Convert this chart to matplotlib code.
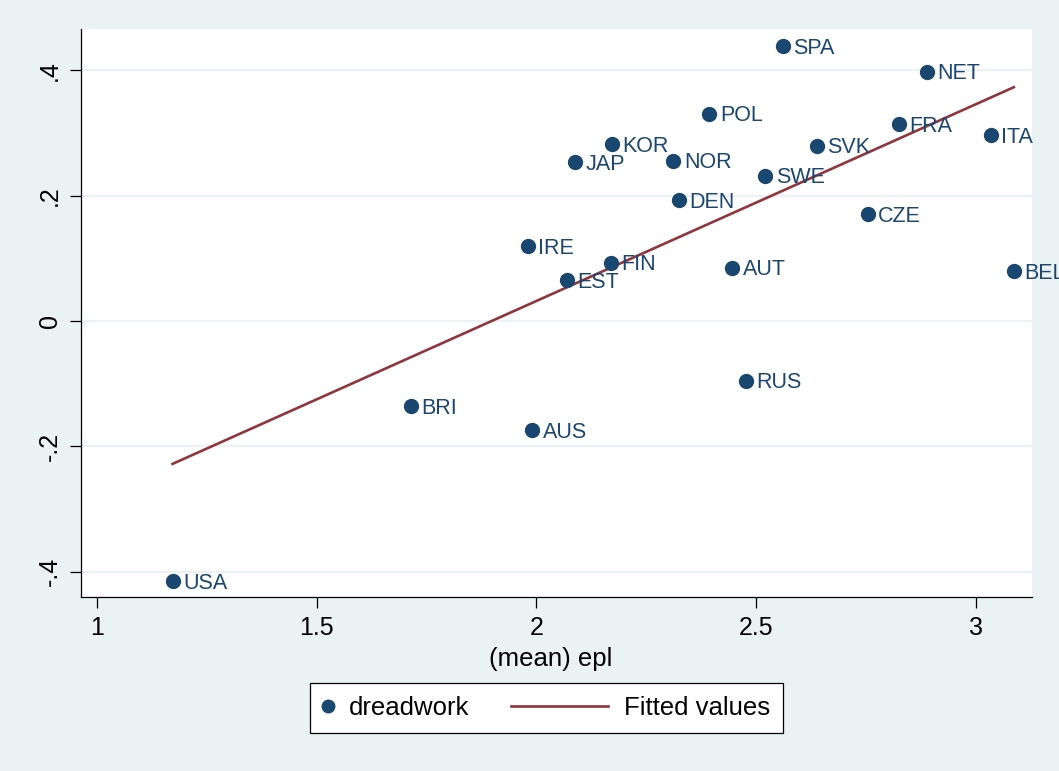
import numpy as np
import matplotlib
matplotlib.use('Agg')
import matplotlib.pyplot as plt
from matplotlib.legend_handler import HandlerLine2D

matplotlib.rc('font', family=['Liberation Sans', 'DejaVu Sans'], size=18)

# data
countries = ['USA', 'BRI', 'AUS', 'IRE', 'EST', 'FIN', 'JAP', 'KOR', 'NOR', 'DEN', 'POL',
             'AUT', 'RUS', 'SWE', 'SPA', 'SVK', 'CZE', 'FRA', 'NET', 'ITA', 'BEL']
epl = [1.172, 1.715, 1.991, 1.981, 2.069, 2.169, 2.088, 2.172, 2.312, 2.324, 2.394,
       2.446, 2.477, 2.521, 2.561, 2.638, 2.754, 2.826, 2.889, 3.035, 3.087]
dreadwork = [-0.415, -0.136, -0.174, 0.120, 0.065, 0.093, 0.254, 0.282, 0.256, 0.193, 0.331,
             0.085, -0.095, 0.232, 0.439, 0.280, 0.170, 0.314, 0.398, 0.297, 0.079]
fit_x = [1.172, 3.087]
fit_y = [-0.228, 0.373]

xticks = [1, 1.5, 2, 2.5, 3]
xticklabels = ['1', '1.5', '2', '2.5', '3']
yticks = [-0.4, -0.2, 0, 0.2, 0.4]
yticklabels = ['-.4', '-.2', '0', '.2', '.4']

bg = '#eaf2f3'
navy = '#1a476f'
maroon = '#90353b'

fig = plt.figure(figsize=(10.59, 7.71), dpi=100, facecolor=bg)
ax = fig.add_axes([81/1059, 1-597/771, 951/1059, 568/771])
ax.set_facecolor('white')

pts, = ax.plot(epl, dreadwork, 'o', color=navy, markersize=10, linestyle='none',
               label='dreadwork', zorder=3)
fit, = ax.plot(fit_x, fit_y, '-', color=maroon, linewidth=1.9, label='Fitted values', zorder=2)

for name, xv, yv in zip(countries, epl, dreadwork):
  ax.annotate(name, (xv, yv), xytext=(7.5, -5.6), textcoords='offset points',
              ha='left', va='baseline', fontsize=15.5, color=navy, zorder=4,
              annotation_clip=False)

ax.set_xlim(0.9636, 3.1284)
ax.set_ylim(-0.4404, 0.4659)
ax.set_xticks(xticks)
ax.set_xticklabels(xticklabels)
ax.set_yticks(yticks)
ax.set_yticklabels(yticklabels, rotation=90, va='center')
ax.tick_params(axis='both', length=8, width=0.9, color='black', labelsize=18)
ax.tick_params(axis='x', pad=6)
ax.tick_params(axis='y', pad=6)

# stata style: light horizontal grid, only left/bottom axis lines
ax.grid(axis='y', color=bg, linewidth=1.6)
ax.set_axisbelow(True)
for s in ['top', 'right']:
  ax.spines[s].set_visible(False)
for s in ['left', 'bottom']:
  ax.spines[s].set_linewidth(0.9)

ax.set_xlabel('(mean) epl', fontsize=18.5, labelpad=5)
ax.xaxis.label.set_x((551-81)/951)

# short handle for the dot, line handle stretched leftwards
leg = fig.legend(handles=[pts, fit], loc='center', ncol=2,
                 bbox_to_anchor=(546.5/1059, 1-708/771),
                 handlelength=0.4, handletextpad=0.62, columnspacing=5.0,
                 borderpad=0.5, fontsize=18.5, markerscale=0.9,
                 fancybox=False, shadow=False, framealpha=1, edgecolor='black',
                 handler_map={fit: HandlerLine2D(xpad=-3.4)})
leg.get_frame().set_linewidth(0.9)

plt.savefig('out.png', dpi=100, facecolor=bg)
